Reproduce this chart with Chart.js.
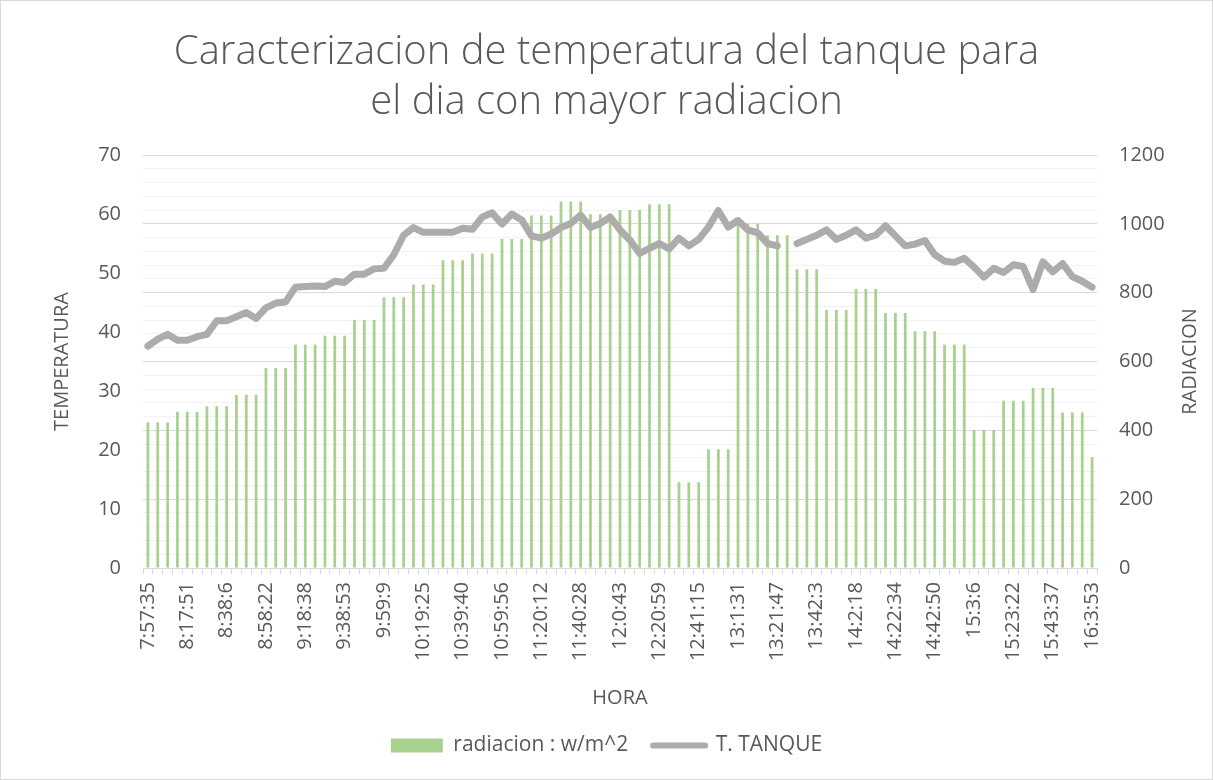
<!DOCTYPE html>
<html>
<head>
<meta charset="utf-8">
<title>Caracterizacion de temperatura del tanque</title>
<script src="https://cdn.jsdelivr.net/npm/chart.js"></script>
<style>
  body { margin: 0; background: #fff; }
  #wrap { position: relative; width: 1213px; height: 780px; }
  #frame { position: absolute; left: 0; top: 0; width: 1213px; height: 780px; box-sizing: border-box; border: 1px solid #d9d9d9; pointer-events: none; }
</style>
</head>
<body>
<div id="wrap">
  <canvas id="tanqueChart" width="1213" height="780"></canvas>
  <div id="frame"></div>
</div>
<script>
// x axis labels, one every 4 samples
const tickLabels = ['7:57:35', '8:17:51', '8:38:6', '8:58:22', '9:18:38', '9:38:53', '9:59:9',
    '10:19:25', '10:39:40', '10:59:56', '11:20:12', '11:40:28', '12:0:43', '12:20:59',
    '12:41:15', '13:1:31', '13:21:47', '13:42:3', '14:2:18', '14:22:34', '14:42:50',
    '15:3:6', '15:23:22', '15:43:37', '16:3:53'];

// radiation (w/m^2), right axis
const radiacion = [
    423, 423, 423, 454, 454, 454, 470, 470, 470, 503, 503, 503,
    581, 581, 581, 649, 649, 649, 675, 675, 675, 721, 721, 721,
    787, 787, 787, 824, 824, 824, 894, 894, 894, 914, 914, 914,
    956, 956, 956, 1024, 1024, 1024, 1065, 1065, 1065, 1028, 1028, 1028,
    1040, 1040, 1040, 1057, 1057, 1057, 249, 249, 249, 345, 345, 345,
    1000, 1000, 1000, 967, 967, 967, 868, 868, 868, 750, 750, 750,
    811, 811, 811, 741, 741, 741, 688, 688, 688, 649, 649, 649,
    401, 401, 401, 486, 486, 486, 523, 523, 523, 452, 452, 452,
    322
];

// tank temperature, left axis (null = missing reading)
const tanque = [
    37.6, 38.8, 39.6, 38.6, 38.6, 39.2, 39.6, 41.9, 41.9, 42.6,
    43.3, 42.3, 44.1, 44.9, 45.1, 47.6, 47.7, 47.8, 47.7, 48.6,
    48.4, 49.8, 49.8, 50.7, 50.8, 53.1, 56.4, 57.7, 56.9, 56.9,
    56.9, 56.9, 57.6, 57.4, 59.5, 60.2, 58.3, 60.0, 59.0, 56.3,
    55.9, 56.6, 57.7, 58.4, 59.8, 57.7, 58.4, 59.5, 57.3, 55.6,
    53.3, 54.2, 55.0, 54.1, 55.9, 54.6, 55.7, 57.8, 60.6, 57.8,
    58.9, 57.3, 56.8, 55.0, 54.6, null, 55.0, 55.7, 56.4, 57.3,
    55.7, 56.4, 57.3, 55.9, 56.4, 58.0, 56.3, 54.6, 54.9, 55.5,
    53.1, 52.0, 51.8, 52.5, 51.0, 49.3, 50.8, 50.1, 51.4, 51.1,
    47.2, 51.9, 50.2, 51.6, 49.4, 48.6, 47.6
];

// one category per sample, only every 4th one is labelled
const categories = radiacion.map((v, i) => (i % 4 === 0 ? tickLabels[i / 4] : ''));

const textColor = '#595959';
const green = '#a9d18e';
const grey = '#aeabab';

Chart.defaults.font.family = "'Open Sans', sans-serif";
Chart.defaults.color = textColor;

// secondary axis title, rotated like the primary one (reads bottom to top)
const rightTitle = {
    id: 'rightTitle',
    afterDraw(chart) {
        const s = chart.scales.y1;
        const c = chart.ctx;
        c.save();
        c.translate(s.right - 23, (s.top + s.bottom) / 2);
        c.rotate(-Math.PI / 2);
        c.font = "20px 'Open Sans', sans-serif";
        c.fillStyle = textColor;
        c.textAlign = 'center';
        c.textBaseline = 'middle';
        c.fillText('RADIACION', 0, 0);
        c.restore();
    }
};

const ctx = document.getElementById('tanqueChart').getContext('2d');
const tanqueChart = new Chart(ctx, {
    type: 'bar',
    data: {
        labels: categories,
        datasets: [{
            type: 'bar',
            label: 'radiacion : w/m^2',
            data: radiacion,
            yAxisID: 'y1',
            backgroundColor: green,
            barPercentage: 0.28,
            categoryPercentage: 1,
            order: 1
        }, {
            type: 'line',
            label: 'T. TANQUE',
            data: tanque,
            yAxisID: 'y',
            borderColor: grey,
            backgroundColor: grey,
            borderWidth: 7,
            borderJoinStyle: 'round',
            borderCapStyle: 'round',
            pointRadius: 0,
            tension: 0,
            order: 0
        }]
    },
    plugins: [rightTitle],
    options: {
        responsive: false,
        animation: false,
        layout: { padding: { top: 0, left: 0, right: 0, bottom: 14 } },
        plugins: {
            title: {
                display: true,
                text: ['Caracterizacion de temperatura del tanque para', 'el dia con mayor radiacion'],
                color: textColor,
                font: { size: 40, weight: 300, lineHeight: 1.25 },
                padding: { top: 28, bottom: 27 }
            },
            legend: {
                position: 'bottom',
                labels: {
                    usePointStyle: true,
                    pointStyleWidth: 52,
                    boxHeight: 14,
                    padding: 25,
                    color: textColor,
                    font: { size: 21 },
                    generateLabels: chart => chart.data.datasets.map((ds, i) => ({
                        text: ds.label,
                        datasetIndex: i,
                        hidden: !chart.isDatasetVisible(i),
                        fillStyle: i === 0 ? green : grey,
                        strokeStyle: i === 0 ? green : grey,
                        lineWidth: i === 0 ? 0 : 6,
                        lineCap: 'round',
                        pointStyle: i === 0 ? 'rect' : 'line',
                        fontColor: textColor
                    }))
                }
            }
        },
        scales: {
            x: {
                offset: true,
                grid: { display: true, drawOnChartArea: false, drawTicks: true, tickLength: 6, color: '#d9d9d9', offset: true },
                border: { color: '#d9d9d9' },
                ticks: { autoSkip: false, maxRotation: 90, minRotation: 90, padding: 8, font: { size: 20 } },
                title: { display: true, text: 'HORA', font: { size: 20 }, padding: { top: 4, bottom: 0 } },
                afterFit: scale => { scale.height = 142; }
            },
            y: {
                position: 'left',
                min: 0,
                max: 70,
                ticks: { stepSize: 10, padding: 22, font: { size: 20 } },
                grid: { display: false, drawTicks: false },
                border: { display: false },
                title: { display: true, text: 'TEMPERATURA', font: { size: 20 }, padding: { top: 50 } },
                afterFit: scale => { scale.width = 143; }
            },
            y1: {
                position: 'right',
                min: 0,
                max: 1200,
                ticks: {
                    stepSize: 40,
                    autoSkip: false,
                    padding: 22,
                    font: { size: 20 },
                    callback: v => (v % 200 === 0 ? v : '')
                },
                grid: {
                    drawTicks: false,
                    color: c => (c.tick && c.tick.value % 200 === 0 ? '#d9d9d9' : '#f2f2f2')
                },
                border: { display: false },
                title: { display: false },
                afterFit: scale => { scale.width = 116; }
            }
        }
    }
});
</script>
</body>
</html>
